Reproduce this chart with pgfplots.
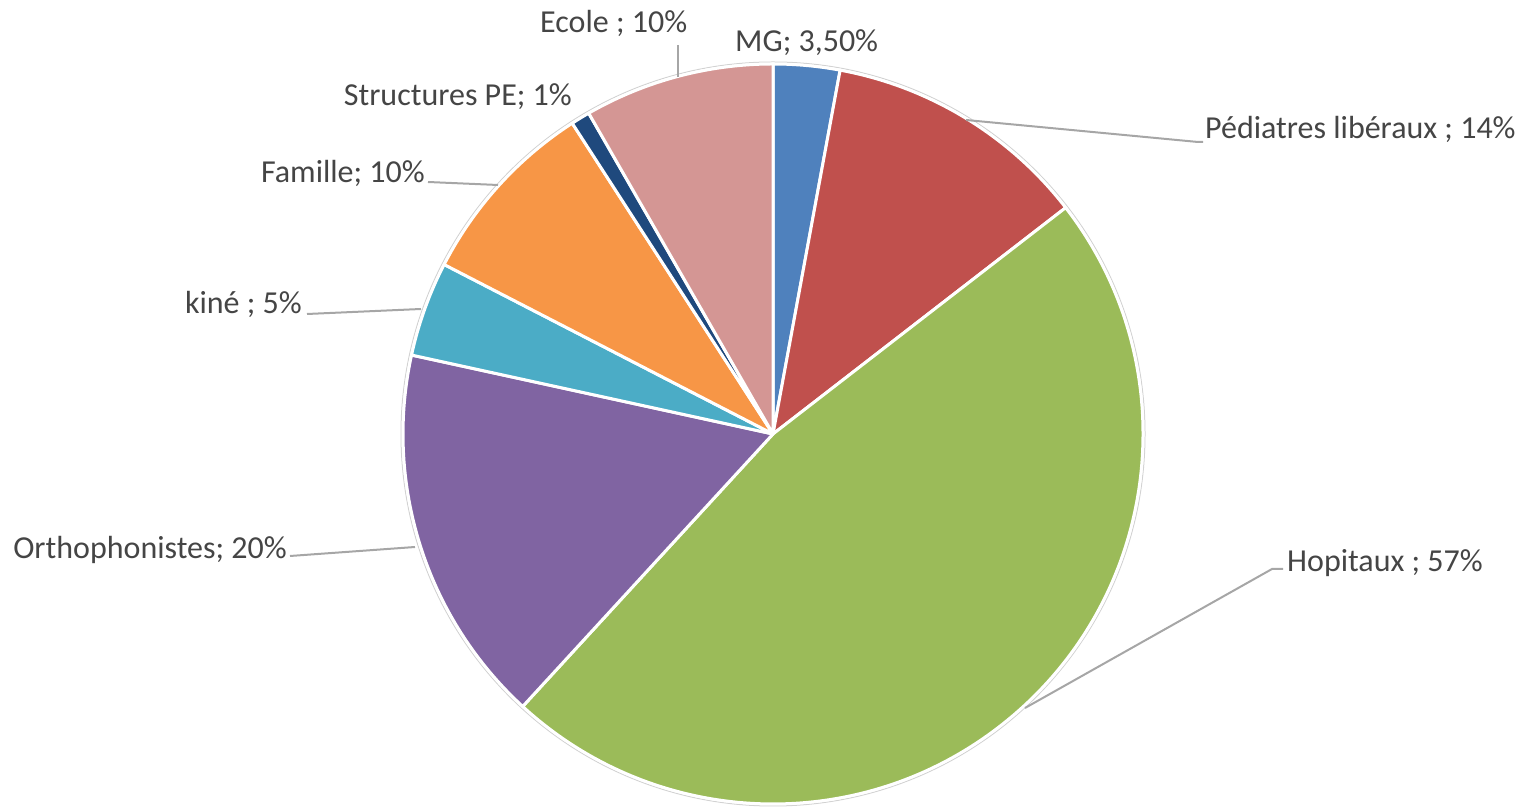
\documentclass[border=0pt]{standalone}
\usepackage{pgfplots}
\usepackage{pgfplotstable}
\usepackage{fontspec}
\setmainfont{Carlito}
\pgfplotsset{compat=1.18}

\definecolor{cMG}{HTML}{4F81BD}
\definecolor{cPed}{HTML}{C0504D}
\definecolor{cHop}{HTML}{9BBB59}
\definecolor{cOrt}{HTML}{8064A2}
\definecolor{cKin}{HTML}{4BACC6}
\definecolor{cFam}{HTML}{F79646}
\definecolor{cStr}{HTML}{1F497D}
\definecolor{cEco}{HTML}{D49694}
\definecolor{txt}{HTML}{454545}
\definecolor{lead}{HTML}{A6A6A6}

% slices clockwise from the top; angles proportional to value / sum
\pgfplotstableread[col sep=comma]{
label,value,color
MG,3.5,cMG
Pédiatres libéraux,14,cPed
Hopitaux,57,cHop
Orthophonistes,20,cOrt
kiné,5,cKin
Famille,10,cFam
Structures PE,1,cStr
Ecole,10,cEco
}\piedata

\begin{document}
\begin{tikzpicture}[
    lbl/.style={font=\fontsize{32}{37}\selectfont, text=txt, inner sep=0pt},
    ld/.style={draw=lead, line width=2pt},
  ]
\begin{axis}[
    scale only axis,
    width=1528pt, height=808pt,
    xmin=0, xmax=1528, ymin=0, ymax=808,
    hide axis, clip=false,
  ]
  \pgfplotsextra{
    \pgfplotstablegetrowsof{\piedata}
    \pgfmathtruncatemacro\nrows{\pgfplotsretval-1}
    \gdef\total{0}
    \foreach \i in {0,...,\nrows}{
      \pgfplotstablegetelem{\i}{value}\of\piedata
      \pgfmathsetmacro\tmp{\total+\pgfplotsretval}
      \xdef\total{\tmp}
    }
    \draw[gray!35, line width=1pt] (axis cs:773,374) circle[radius=372pt];
    \gdef\cum{0}
    \foreach \i in {0,...,\nrows}{
      \pgfplotstablegetelem{\i}{value}\of\piedata
      \edef\val{\pgfplotsretval}
      \pgfplotstablegetelem{\i}{color}\of\piedata
      \edef\slicecol{\pgfplotsretval}
      \pgfmathsetmacro\sa{90-360*(\cum/\total)}
      \pgfmathsetmacro\ea{90-360*((\cum+\val)/\total)}
      \fill[fill=\slicecol, draw=white, line width=3pt, line join=round]
        (axis cs:773,374) -- ++(\sa:370pt)
        arc[start angle=\sa, end angle=\ea, radius=370pt] -- cycle;
      \pgfmathsetmacro\tmp{\cum+\val}
      \xdef\cum{\tmp}
    }
  }

  % leader lines
  \draw[ld] (axis cs:678,763) -- (axis cs:678,731);
  \draw[ld] (axis cs:966,688) -- (axis cs:1198,666) -- (axis cs:1203,666);
  \draw[ld] (axis cs:428,626) -- (axis cs:498,623);
  \draw[ld] (axis cs:307,494) -- (axis cs:421,499);
  \draw[ld] (axis cs:290,252) -- (axis cs:415,261);
  \draw[ld] (axis cs:1025,100) -- (axis cs:1272,239) -- (axis cs:1283,239);

  % data labels
  \node[lbl, anchor=base west] at (axis cs:540,775) {Ecole ; 10\%};
  \node[lbl, anchor=base west] at (axis cs:735,756) {MG; 3,50\%};
  \node[lbl, anchor=base east] at (axis cs:572,702) {Structures PE; 1\%};
  \node[lbl, anchor=base west] at (axis cs:1205,669) {Pédiatres libéraux ; 14\%};
  \node[lbl, anchor=base east] at (axis cs:425,625) {Famille; 10\%};
  \node[lbl, anchor=base east] at (axis cs:302,494) {kiné ; 5\%};
  \node[lbl, anchor=base east] at (axis cs:287,249) {Orthophonistes; 20\%};
  \node[lbl, anchor=base west] at (axis cs:1287,236) {Hopitaux ; 57\%};
\end{axis}
\pgfresetboundingbox
\path (current axis.south west) rectangle (current axis.north east);
\end{tikzpicture}
\end{document}
